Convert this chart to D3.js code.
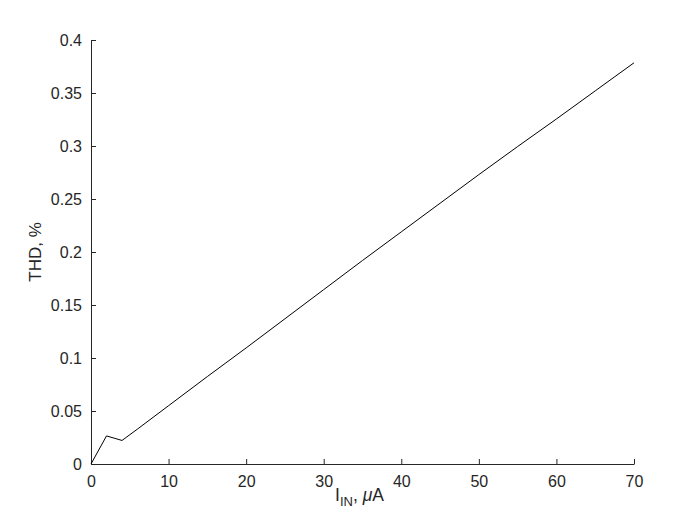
<!DOCTYPE html>
<html>
<head>
<meta charset="utf-8">
<script src="https://cdn.jsdelivr.net/npm/d3@7"></script>
<style>
  body { margin: 0; background: #fff; }
  svg { display: block; font-family: "Liberation Sans", Arial, sans-serif; }
</style>
</head>
<body>
<div id="chart"></div>
<script>
// input current (uA) and THD (%)
const currents = [0, 2, 4, 6, 8, 10, 15, 20, 25, 30, 35, 40, 45, 50, 55, 60, 65, 70];
const thd = [0, 0.0265, 0.0222, 0.0330, 0.0440, 0.0550, 0.0825, 0.1095, 0.1370, 0.1645,
    0.1920, 0.2190, 0.2460, 0.2730, 0.2995, 0.3255, 0.3520, 0.3785];
const xTicks = [0, 10, 20, 30, 40, 50, 60, 70];
const yTicks = [0, 0.05, 0.1, 0.15, 0.2, 0.25, 0.3, 0.35, 0.4];

const width = 700, height = 525;
const margin = { left: 91, right: 66, top: 40, bottom: 61 };
const ink = "#262626";

const svg = d3.select("#chart").append("svg")
    .attr("width", width)
    .attr("height", height);

const x = d3.scaleLinear().domain([0, 70]).range([margin.left, width - margin.right]);
const y = d3.scaleLinear().domain([0, 0.4]).range([height - margin.bottom, margin.top]);

// axes, ticks point inwards like matlab
const xAxis = svg.append("g")
    .attr("transform", `translate(0,${height - margin.bottom})`)
    .call(d3.axisBottom(x).tickValues(xTicks).tickSize(-5).tickSizeOuter(0).tickPadding(12).tickFormat(d3.format("d")));

const yAxis = svg.append("g")
    .attr("transform", `translate(${margin.left},0)`)
    .call(d3.axisLeft(y).tickValues(yTicks).tickSize(-5).tickSizeOuter(0).tickPadding(9).tickFormat(d => d === 0 ? "0" : String(+d.toFixed(2))));

[xAxis, yAxis].forEach(g => {
    g.select(".domain").attr("stroke", ink).attr("stroke-width", 1);
    g.selectAll(".tick line").attr("stroke", ink);
    g.selectAll(".tick text").attr("fill", ink).style("font-size", "16px");
});

const line = d3.line()
    .x((d, i) => x(currents[i]))
    .y(d => y(d));

svg.append("path")
    .datum(thd)
    .attr("fill", "none")
    .attr("stroke", "#000")
    .attr("stroke-width", 1)
    .attr("d", line);

// axis labels
const xLabel = svg.append("text")
    .attr("x", (margin.left + width - margin.right) / 2 - 3)
    .attr("y", 501)
    .attr("text-anchor", "middle")
    .attr("fill", ink)
    .style("font-size", "17.5px");
xLabel.append("tspan").text("I");
xLabel.append("tspan").attr("dy", 5).style("font-size", "13px").text("IN");
xLabel.append("tspan").attr("dy", -5).text(", ");
xLabel.append("tspan").style("font-style", "italic").text("μ");
xLabel.append("tspan").text("A");

svg.append("text")
    .attr("transform", `translate(41,${(margin.top + height - margin.bottom) / 2}) rotate(-90)`)
    .attr("text-anchor", "middle")
    .attr("fill", ink)
    .style("font-size", "17px")
    .text("THD, %");
</script>
</body>
</html>
